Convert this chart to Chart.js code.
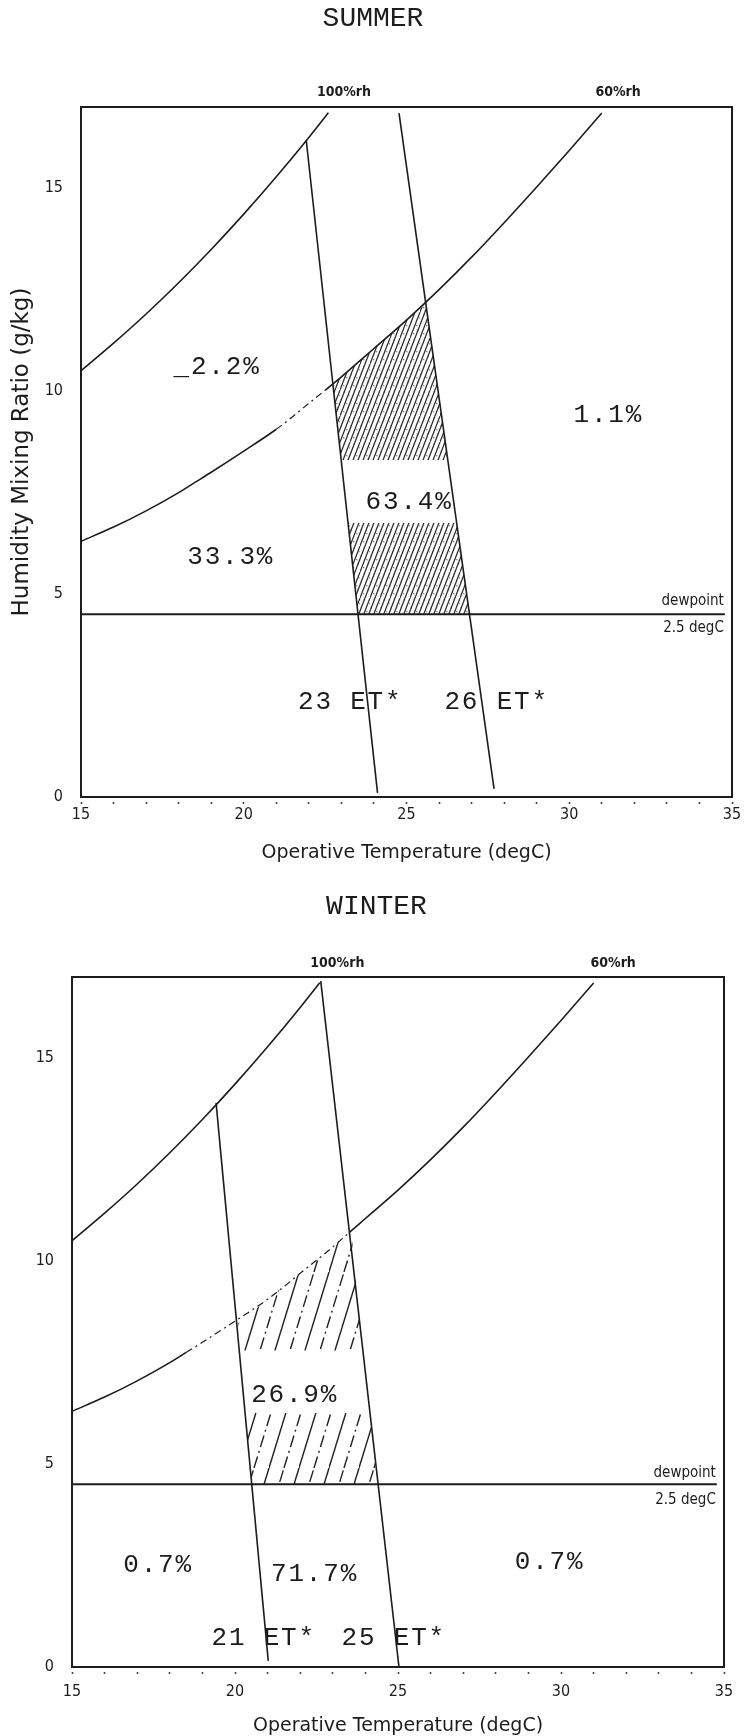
<!DOCTYPE html>
<html>
<head>
<meta charset="utf-8">
<script src="https://cdn.jsdelivr.net/npm/chart.js@4/dist/chart.umd.min.js"></script>
<style>
  html, body { margin: 0; padding: 0; background: #fff; overflow: hidden; }
  #wrap { position: relative; width: 745px; height: 1736px; }
  canvas { position: absolute; }
  #summer { top: 0; left: 0; }
  #winter { top: 880px; left: 29px; }
</style>
</head>
<body>
<div id="wrap">
  <canvas id="summer" width="745" height="880"></canvas>
  <canvas id="winter" width="716" height="856"></canvas>
</div>
<script>
// ---- psychrometric reference lines: [operative temperature degC, mixing ratio g/kg] ----
const rh100 = [[15, 10.5], [16, 11.18], [17, 11.9], [18, 12.67], [19, 13.49], [20, 14.36], [21, 15.28], [22, 16.25], [22.6, 16.86]];
const rh60 = [[15, 6.3], [16, 6.65], [17, 7.05], [18, 7.5], [18.5, 7.75], [19, 8.0], [20, 8.52], [21, 9.06], [21.5, 9.37],
              [22, 9.7], [22.5, 10.02], [23, 10.35], [23.5, 10.7], [24, 11.05], [25, 11.75], [26, 12.5], [27, 13.3],
              [28, 14.15], [29, 15.03], [30, 15.93], [31, 16.85]];
const dewpointLine = [[15, 4.5], [34.78, 4.5]];

// ---- axis ticks ----
const xTickLabels = [15, 20, 25, 30, 35];
const yTickLabels = [0, 5, 10, 15];

// ---- summer ----
const summerET23 = [[21.92, 16.18], [24.11, 0.1]];
const summerET26 = [[24.77, 16.85], [27.69, 0.2]];
const summerZoneUpper = [[22.99, 8.3], [22.75, 10.15], [23, 10.35], [24, 11.05], [25, 11.75], [25.6, 12.15], [26.27, 8.3]];
const summerZoneLower = [[23.2, 6.75], [26.54, 6.75], [26.94, 4.5], [23.51, 4.5]];
const summerRh60Broken = [21, 22.5];
const summerShares = ['_2.2%', '1.1%', '63.4%', '33.3%'];
const summerShareAt = [[19.18, 10.6], [31.2, 9.4], [25.08, 7.27], [19.6, 5.9]];
const summerETLabels = ['23 ET*', '26 ET*'];
const summerETLabelAt = [[23.27, 2.34], [27.77, 2.34]];
const summerRhLabelAt = [23.08, 31.5];

// ---- winter ----
const winterET21 = [[19.42, 13.9], [21.02, 0.15]];
const winterET25 = [[22.63, 16.9], [25.03, 0]];
const winterZoneUpper = [[20.13, 7.8], [20.1, 8.47], [21, 9.06], [22, 9.7], [23, 10.35], [23.57, 10.7], [23.92, 7.8]];
const winterZoneLower = [[20.31, 6.26], [24.14, 6.26], [24.38, 4.5], [20.52, 4.5]];
const winterRh60Broken = [18.5, 23.5];
const winterShares = ['26.9%', '0.7%', '71.7%', '0.7%'];
const winterShareAt = [[21.83, 6.7], [17.64, 2.51], [22.44, 2.3], [29.65, 2.59]];
const winterETLabels = ['21 ET*', '25 ET*'];
const winterETLabelAt = [[20.88, 0.71], [24.87, 0.71]];
const winterRhLabelAt = [23.14, 31.6];

const rhLabels = ['100%rh', '60%rh'];
const dewpointLabels = ['dewpoint', '2.5 degC'];

// ---- styling ----
const INK = '#1c1c1c';
const MONO = '"Liberation Mono", "DejaVu Sans Mono", monospace';
const SANS = '"DejaVu Sans", sans-serif';
const SANSC = '"DejaVu Sans Condensed", "DejaVu Sans", sans-serif';

const pts = arr => arr.map(([x, y]) => ({ x, y }));

// Diagonal hatch tile; every other line can be dash-dotted, optional stipple between lines.
function hatch(spacing, height, lineW, color, altDash, withDots) {
  const c = document.createElement('canvas');
  c.width = spacing * 2; c.height = height;
  const g = c.getContext('2d');
  g.strokeStyle = color; g.lineWidth = lineW; g.lineCap = 'butt';
  for (let k = -2; k <= 1; k++) {
    g.setLineDash(altDash && (k % 2 !== 0) ? altDash : []);
    g.beginPath();
    g.moveTo(k * spacing, height);
    g.lineTo(k * spacing + c.width, 0);
    g.stroke();
  }
  if (withDots) {
    g.fillStyle = 'rgba(40,40,40,0.6)';
    for (let j = 0; j < height; j += 4) {
      const off = (j / 4) % 2 ? 1.5 : 4.5;
      g.fillRect((off + j * c.width / height) % c.width, height - j - 1, 1.3, 1.3);
    }
  }
  return g.createPattern(c, 'repeat');
}

function lineDs(data, extra) {
  return Object.assign({
    data: pts(data), showLine: true, pointRadius: 0, borderColor: INK, borderWidth: 1.6,
    fill: false, tension: 0, order: 1
  }, extra || {});
}

function zoneDs(data, pattern) {
  return {
    data: pts(data.concat([data[0]])), showLine: true, pointRadius: 0, borderWidth: 0,
    borderColor: 'rgba(0,0,0,0)', backgroundColor: pattern, fill: 'shape', tension: 0, order: 3
  };
}

function rh60Ds(broken) {
  const inBreak = ctx => ctx.p0.parsed.x >= broken[0] - 1e-6 && ctx.p1.parsed.x <= broken[1] + 1e-6;
  return lineDs(rh60, {
    cubicInterpolationMode: 'monotone',
    segment: {
      borderDash: ctx => inBreak(ctx) ? [7, 4, 2, 4] : undefined,
      borderWidth: ctx => inBreak(ctx) ? 1.2 : undefined
    }
  });
}

// Frame and text annotations placed through the chart scales.
const annotate = {
  id: 'annotate',
  afterDatasetsDraw(chart, args, opts) {
    const { ctx, chartArea: a, scales: { x, y } } = chart;
    ctx.save();
    ctx.strokeStyle = INK;
    ctx.lineWidth = 2;
    ctx.strokeRect(a.left, a.top, a.right - a.left, a.bottom - a.top);
    ctx.fillStyle = INK;
    ctx.textBaseline = 'middle';
    for (const t of opts.items) {
      ctx.font = t.font;
      ctx.letterSpacing = t.spacing || '0px';
      ctx.textAlign = t.align || 'center';
      const px = x.getPixelForValue(t.x);
      const py = (t.y === null ? a.top : y.getPixelForValue(t.y)) + (t.dy || 0);
      ctx.fillText(t.text, px, py);
    }
    ctx.restore();
  }
};

function buildItems(shares, shareAt, etLabels, etAt, rhAt, rhAbove, dewDy) {
  const items = [];
  const big = '26px ' + MONO;
  shares.forEach((s, i) => items.push({ text: s, x: shareAt[i][0], y: shareAt[i][1], font: big, spacing: '1.8px' }));
  etLabels.forEach((s, i) => items.push({ text: s, x: etAt[i][0], y: etAt[i][1], font: big, spacing: '1.8px' }));
  rhLabels.forEach((s, i) => items.push({ text: s, x: rhAt[i], y: null, dy: -rhAbove, font: 'bold 14px ' + SANSC }));
  const end = dewpointLine[1][0] - 0.03;
  items.push({ text: dewpointLabels[0], x: end, y: dewpointLine[0][1], dy: dewDy[0], font: '15px ' + SANSC, align: 'right' });
  items.push({ text: dewpointLabels[1], x: end, y: dewpointLine[0][1], dy: dewDy[1], font: '15px ' + SANSC, align: 'right' });
  return items;
}

function makeChart(id, cfg) {
  return new Chart(document.getElementById(id), {
    type: 'line',
    data: {
      datasets: [
        zoneDs(cfg.zoneUpper, cfg.pattern),
        zoneDs(cfg.zoneLower, cfg.pattern),
        lineDs(rh100, { cubicInterpolationMode: 'monotone' }),
        rh60Ds(cfg.broken),
        lineDs(cfg.etLow),
        lineDs(cfg.etHigh),
        lineDs(dewpointLine, { borderWidth: 2 })
      ]
    },
    options: {
      responsive: false,
      animation: false,
      devicePixelRatio: 1,
      events: [],
      layout: { padding: { left: cfg.padLeft, right: cfg.padRight, top: 0, bottom: 0 } },
      plugins: {
        legend: { display: false },
        tooltip: { enabled: false },
        title: {
          display: true, text: cfg.title, color: INK,
          font: { family: MONO, size: 28, weight: 'normal' },
          padding: { top: cfg.titleTop, bottom: cfg.titleBottom }
        },
        annotate: { items: cfg.items }
      },
      scales: {
        x: {
          type: 'linear', min: 15, max: 35,
          afterFit: s => { s.height = cfg.xHeight; },
          border: { display: false },
          grid: { drawOnChartArea: false, drawTicks: true, tickLength: 8, tickColor: '#444', tickWidth: 1.6, tickBorderDash: [0, 5, 2, 20] },
          ticks: {
            stepSize: 1, autoSkip: false, maxRotation: 0, padding: cfg.xTickPad, color: INK,
            font: { family: SANSC, size: 16 },
            callback: v => xTickLabels.includes(v) ? String(v) : ''
          },
          title: {
            display: true, text: 'Operative Temperature (degC)', color: INK,
            font: { family: SANS, size: 19 }, padding: { top: 0, bottom: cfg.xTitlePad }
          }
        },
        y: {
          type: 'linear', min: 0, max: 17,
          afterFit: s => { s.width = cfg.yWidth; },
          border: { display: false },
          grid: { display: false },
          ticks: {
            stepSize: 5, includeBounds: false, padding: 10, color: INK,
            font: { family: SANSC, size: 16 },
            callback: v => yTickLabels.includes(v) ? String(v) : ''
          },
          title: {
            display: cfg.yTitle, text: 'Humidity Mixing Ratio (g/kg)', color: INK,
            font: { family: SANS, size: 23 }, padding: { top: -5.3, bottom: 0 }
          }
        }
      }
    },
    plugins: [annotate]
  });
}

makeChart('summer', {
  title: 'SUMMER', titleTop: 2, titleBottom: 71.4,
  padLeft: 14, padRight: 13, yWidth: 67, xHeight: 83, xTickPad: 0, xTitlePad: 16, yTitle: true,
  zoneUpper: summerZoneUpper, zoneLower: summerZoneLower,
  pattern: hatch(5, 26, 1.2, '#2a2a2a', null, true),
  broken: summerRh60Broken, etLow: summerET23, etHigh: summerET26,
  items: buildItems(summerShares, summerShareAt, summerETLabels, summerETLabelAt, summerRhLabelAt, 15, [-13, 14])
});

makeChart('winter', {
  title: 'WINTER', titleTop: 10.2, titleBottom: 53.2,
  padLeft: 0, padRight: 21, yWidth: 43, xHeight: 69, xTickPad: 7, xTitlePad: -1, yTitle: false,
  zoneUpper: winterZoneUpper, zoneLower: winterZoneLower,
  pattern: hatch(15, 98, 1.4, '#222', [12, 4, 2, 4], false),
  broken: winterRh60Broken, etLow: winterET21, etHigh: winterET25,
  items: buildItems(winterShares, winterShareAt, winterETLabels, winterETLabelAt, winterRhLabelAt, 14, [-11, 16])
});
</script>
</body>
</html>
